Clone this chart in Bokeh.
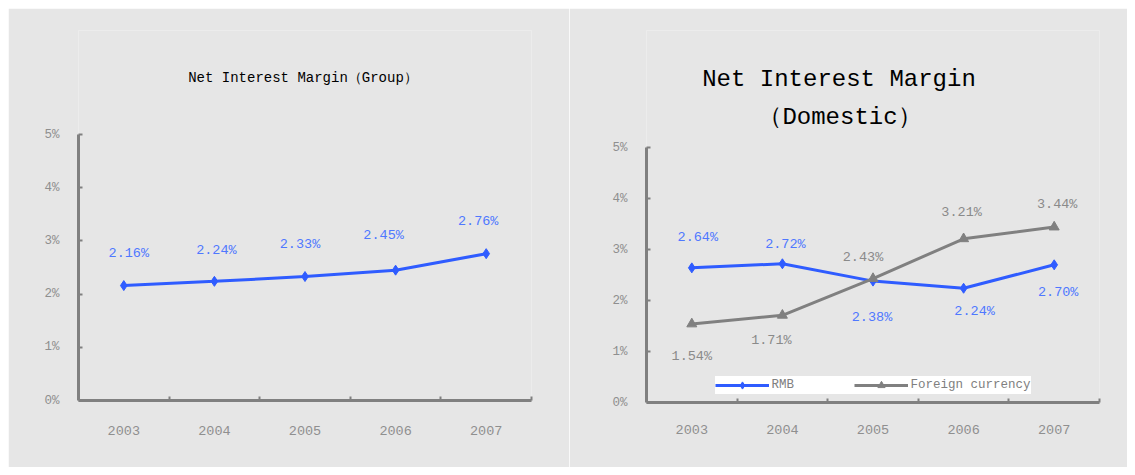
from bokeh.plotting import figure
from bokeh.models import (Range1d, FixedTicker, PrintfTickFormatter,
                          Legend, LegendItem)
from bokeh.core.properties import value
from bokeh.embed import file_html
from bokeh.resources import INLINE

# ---------------- data ----------------
years = ["2003", "2004", "2005", "2006", "2007"]
group_nim = [2.16, 2.24, 2.33, 2.45, 2.76]
rmb_nim = [2.64, 2.72, 2.38, 2.24, 2.70]
fx_nim = [1.54, 1.71, 2.43, 3.21, 3.44]
y_ticks = [0, 1, 2, 3, 4, 5]

title_group = "Net Interest Margin（Group）"
title_dom_1 = "Net Interest Margin"
title_dom_2 = "（Domestic）"
series_names = ["RMB", "Foreign currency"]

# ---------------- layout-only label offsets (pixels) ----------------
group_lbl_dx = [5, 2, -5, -12, -8]
group_lbl_dy = [-32, -31, -32, -35, -32]
rmb_lbl_dx = [6, 3, -1, 11, 4]
rmb_lbl_dy = [-30, -19, 36, 23, 28]
fx_lbl_dx = [0, -11, -10, -2, 3]
fx_lbl_dy = [33, 25, -21, -26, -23]

# ---------------- style ----------------
FONT = "Liberation Mono"
BG = "#e6e6e6"
AXIS = "#808080"
TICKLBL = "#8f8f8f"
BLUE = "#2f5cff"
BLUE_LBL = "#4f78ff"
GRAY = "#808080"
GRAY_LBL = "#8a8a8a"

FIG_H = 459
W_LEFT = 561
W_RIGHT = 558
xc = [i + 0.5 for i in range(len(years))]
boundaries = [i + 1 for i in range(len(years))]
ymax_axis = y_ticks[-1]


def make_fig(width, left_px, bl, br, bt, bb, px_per_unit, x_standoff):
    frame_h = FIG_H - bt - bb
    p = figure(width=width, height=FIG_H,
               x_range=Range1d(0, len(years)),
               y_range=Range1d(y_ticks[0], frame_h / px_per_unit),
               output_backend="svg", toolbar_location=None,
               min_border_left=bl, min_border_right=br,
               min_border_top=bt, min_border_bottom=bb)
    p.styles = {"position": "absolute", "left": f"{left_px}px", "top": "8px"}
    p.background_fill_color = BG
    p.border_fill_color = BG
    p.outline_line_color = None
    p.xgrid.visible = False
    p.ygrid.visible = False

    xa = p.xaxis[0]
    xa.ticker = FixedTicker(ticks=xc, minor_ticks=boundaries)
    xa.major_label_overrides = {c: y for c, y in zip(xc, years)}
    xa.major_tick_line_color = None
    xa.major_tick_in = 0
    xa.major_tick_out = 0
    xa.minor_tick_in = 4
    xa.minor_tick_out = 0
    xa.minor_tick_line_color = AXIS
    xa.minor_tick_line_width = 2
    xa.axis_line_color = AXIS
    xa.axis_line_width = 3
    xa.major_label_standoff = x_standoff
    xa.major_label_text_font = FONT
    xa.major_label_text_font_size = "13.5px"
    xa.major_label_text_color = TICKLBL

    ya = p.yaxis[0]
    ya.bounds = (y_ticks[0], ymax_axis)
    ya.ticker = FixedTicker(ticks=y_ticks)
    ya.formatter = PrintfTickFormatter(format="%d%%")
    ya.major_tick_in = 4
    ya.major_tick_out = 0
    ya.major_tick_line_color = AXIS
    ya.major_tick_line_width = 2
    ya.minor_tick_line_color = None
    ya.axis_line_color = AXIS
    ya.axis_line_width = 3
    ya.major_label_standoff = 19
    ya.major_label_text_font = FONT
    ya.major_label_text_font_size = "12.5px"
    ya.major_label_text_color = TICKLBL
    return p


def add_title(p, text, px_above_top, px_per_unit, dx, size):
    p.text(x=[len(years) / 2], y=[ymax_axis + px_above_top / px_per_unit], text=[text],
           x_offset=dx, text_align="center", text_baseline="middle",
           text_font=value(FONT), text_font_size=size, text_color="black")


# ---------------- left: Group ----------------
PPU_L = 53.2
p1 = make_fig(W_LEFT, 8, 70, 38, 22, 67, PPU_L, 25)
p1.line(xc, group_nim, line_width=3, color=BLUE)
p1.scatter(xc, group_nim, marker="diamond", size=10, color=BLUE)
p1.text(x=xc, y=group_nim, text=[f"{v:.2f}%" for v in group_nim],
        x_offset=group_lbl_dx, y_offset=group_lbl_dy,
        text_align="center", text_baseline="middle",
        text_font=value(FONT), text_font_size="13.5px", text_color=BLUE_LBL)
add_title(p1, title_group, 57, PPU_L, -2, "14px")

# ---------------- right: Domestic ----------------
PPU_R = 51.0
p2 = make_fig(W_RIGHT, 8 + W_LEFT, 77, 28, 22, 65, PPU_R, 22)
r1 = p2.line(xc, rmb_nim, line_width=3, color=BLUE)
r1s = p2.scatter(xc, rmb_nim, marker="diamond", size=10, color=BLUE)
r2 = p2.line(xc, fx_nim, line_width=3, color=GRAY)
r2s = p2.scatter(xc, fx_nim, marker="triangle", size=10, color=GRAY)
p2.text(x=xc, y=rmb_nim, text=[f"{v:.2f}%" for v in rmb_nim],
        x_offset=rmb_lbl_dx, y_offset=rmb_lbl_dy,
        text_align="center", text_baseline="middle",
        text_font=value(FONT), text_font_size="13.5px", text_color=BLUE_LBL)
p2.text(x=xc, y=fx_nim, text=[f"{v:.2f}%" for v in fx_nim],
        x_offset=fx_lbl_dx, y_offset=fx_lbl_dy,
        text_align="center", text_baseline="middle",
        text_font=value(FONT), text_font_size="13.5px", text_color=GRAY_LBL)
add_title(p2, title_dom_1, 68, PPU_R, -34, "24px")
add_title(p2, title_dom_2, 30, PPU_R, -33, "24px")

legend = Legend(items=[LegendItem(label=series_names[0], renderers=[r1, r1s]),
                       LegendItem(label=series_names[1], renderers=[r2, r2s])],
                orientation="horizontal", location="bottom_center",
                background_fill_color="white", background_fill_alpha=1.0,
                border_line_color=None, padding=4, margin=8,
                spacing=22, glyph_width=54, glyph_height=18, label_height=18,
                label_standoff=3, label_width=60,
                label_text_font=FONT, label_text_font_size="12.5px",
                label_text_color=GRAY)
p2.add_layout(legend)

open("out.html", "w").write(file_html([p1, p2], INLINE))
